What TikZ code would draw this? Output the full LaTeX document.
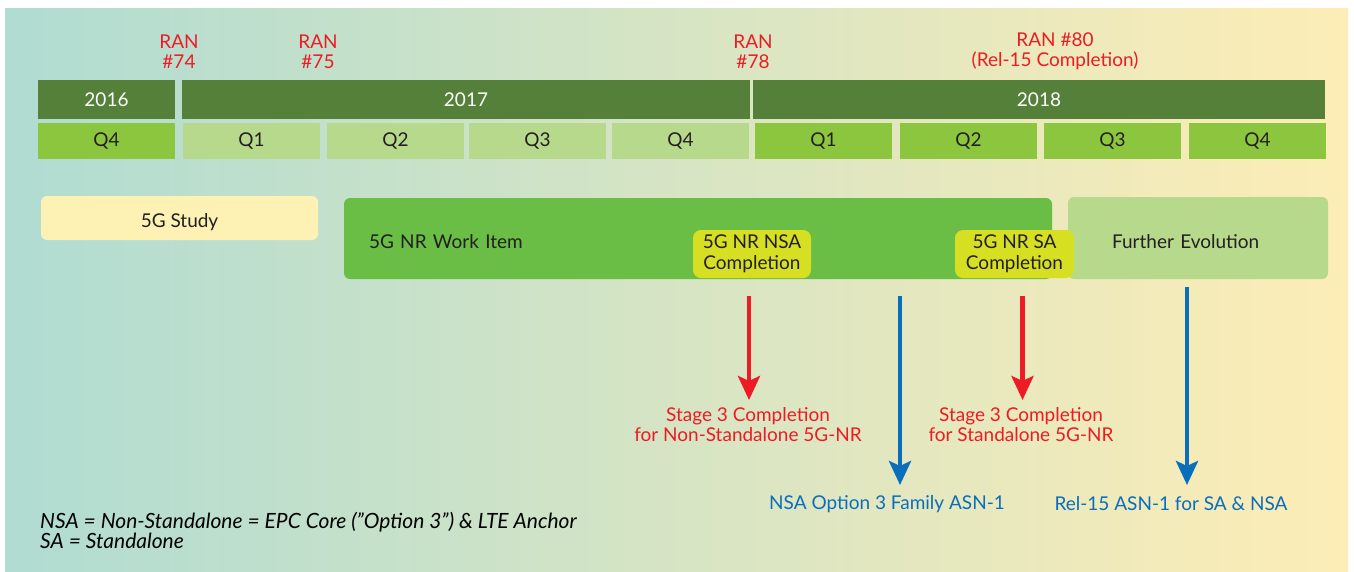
\documentclass[tikz,border=0pt]{standalone}
\usepackage{fontspec}
\setmainfont{Lato}
\usetikzlibrary{arrows.meta}
\definecolor{yeargreen}{HTML}{548039}
\definecolor{qbright}{HTML}{8CC63F}
\definecolor{qlight}{HTML}{B7D98B}
\definecolor{workgreen}{HTML}{6ABD45}
\definecolor{complyellow}{HTML}{D7DF23}
\definecolor{studyyellow}{HTML}{FDF1B4}
\definecolor{ranred}{HTML}{ED1C24}
\definecolor{asnblue}{HTML}{0A6EBD}
\definecolor{bgleft}{HTML}{B0DCD2}
\definecolor{bgmid}{HTML}{D9E6C2}
\definecolor{bgright}{HTML}{FDEDB6}
\definecolor{txtdark}{HTML}{231F20}
\tikzset{
  txt/.style={font=\fontsize{19}{20}\selectfont},
  yearbox/.style={txt, fill=yeargreen, text=white, minimum height=39pt, inner sep=0pt},
  qbox/.style={txt, text=txtdark, minimum height=36pt, minimum width=137pt, inner sep=0pt},
  ranlab/.style={txt, text=ranred, align=center, inner sep=0pt},
  phase/.style={txt, text=txtdark, rounded corners=6pt, inner sep=0pt, text depth=0pt},
  complbox/.style={text=txtdark, fill=complyellow, rounded corners=8pt, align=center,
     minimum height=48pt, inner sep=0pt, font=\fontsize{19}{21}\selectfont},
  redarrow/.style={draw=ranred, line width=4.5pt, -{Stealth[length=24pt, width=22pt, inset=5pt]}},
  bluearrow/.style={draw=asnblue, line width=4.5pt, -{Stealth[length=24pt, width=22pt, inset=5pt]}},
  outred/.style={txt, text=ranred, align=center, inner sep=0pt},
  outblue/.style={txt, text=asnblue, inner sep=0pt},
}
\begin{document}
\begin{tikzpicture}[x=1pt, y=-1pt]
\useasboundingbox (0,0) rectangle (1354,571);
% background
\shade[left color=bgleft, middle color=bgmid, right color=bgright] (5,8) rectangle (1348,571);
% years
\node[yearbox, minimum width=137pt] (y2016) at (106.5,99.5) {2016};
\node[yearbox, minimum width=568pt] (y2017) at (466,99.5) {2017};
\node[yearbox, minimum width=572pt] (y2018) at (1039,99.5) {2018};
% quarters
\node[qbox, fill=qbright] (q4a) at (106.5,141) {Q4};
\node[qbox, fill=qlight] (q1b) at (251.5,141) {Q1};
\node[qbox, fill=qlight] (q2b) at (395.5,141) {Q2};
\node[qbox, fill=qlight] (q3b) at (537.5,141) {Q3};
\node[qbox, fill=qlight] (q4b) at (680.5,141) {Q4};
\node[qbox, fill=qbright] (q1c) at (823.5,141) {Q1};
\node[qbox, fill=qbright] (q2c) at (968.5,141) {Q2};
\node[qbox, fill=qbright] (q3c) at (1112.5,141) {Q3};
\node[qbox, fill=qbright] (q4c) at (1257.5,141) {Q4};
% RAN labels
\node[ranlab] (ran74) at (179,51.5) {RAN\\\#74};
\node[ranlab] (ran75) at (318,51.5) {RAN\\\#75};
\node[ranlab] (ran78) at (753,51.5) {RAN\\\#78};
\node[ranlab] (ran80) at (1055,51.5) {RAN \#80\\(Rel-15 Completion)};
% phases
\node[phase, fill=studyyellow, minimum width=277pt, minimum height=44pt, text height=19.6pt] (study) at (179.5,218) {5G Study};
\node[phase, fill=workgreen, minimum width=708pt, minimum height=81pt, text width=658pt, align=left, text height=20.6pt] (work) at (698,238.5) {5G NR Work Item};
\node[phase, fill=qlight, minimum width=260pt, minimum height=82pt, text width=172pt, align=left, text height=21.6pt] (further) at (1198,238) {Further Evolution};
\node[complbox, minimum width=118pt] (nsa) at (752,254) {5G NR NSA\\Completion};
\node[complbox, minimum width=119pt] (sa) at (1014.5,254) {5G NR SA\\Completion};
% arrows
\coordinate (r1s) at (749,296);
\coordinate (r1e) at (749,400);
\coordinate (b1s) at (900,296);
\coordinate (b1e) at (900,485);
\coordinate (r2s) at (1022.5,296);
\coordinate (r2e) at (1022.5,400);
\coordinate (b2s) at (1187,287);
\coordinate (b2e) at (1187,485);
\draw[redarrow] (r1s) -- (r1e);
\draw[bluearrow] (b1s) -- (b1e);
\draw[redarrow] (r2s) -- (r2e);
\draw[bluearrow] (b2s) -- (b2e);
% outcome labels
\node[outred] (st3nsa) at (748,425) {Stage 3 Completion\\for Non-Standalone 5G-NR};
\node[outred] (st3sa) at (1021,425) {Stage 3 Completion\\for Standalone 5G-NR};
\node[outblue] (asnnsa) at (887,504) {NSA Option 3 Family ASN-1};
\node[outblue] (asnrel) at (1171,504) {Rel-15 ASN-1 for SA \& NSA};
% footnote
\node[text=black, anchor=north west, align=left, inner sep=0pt, font=\fontsize{21}{20}\selectfont\itshape] (foot) at (40,512) {NSA = Non-Standalone = EPC Core (\textquotedblright Option 3\textquotedblright) \& LTE Anchor\\SA = Standalone};
\end{tikzpicture}
\end{document}
